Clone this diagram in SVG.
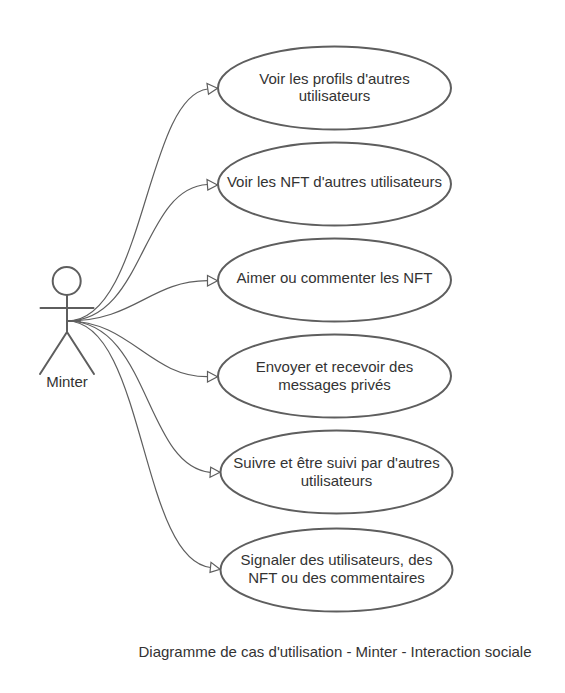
<svg xmlns="http://www.w3.org/2000/svg" width="565" height="693" viewBox="0 0 565 693">
<style>
.n{fill:#fff;stroke:#5e5e5e;stroke-width:2}
.a{fill:none;stroke:#5e5e5e;stroke-width:2;stroke-linecap:round}
.c{fill:none;stroke:#5e5e5e;stroke-width:1.2}
.h{fill:#fff;stroke:#5e5e5e;stroke-width:1.2}
text{font-family:"Liberation Sans",Arial,sans-serif;font-size:15px;fill:#333;text-anchor:middle}
</style>
<rect width="565" height="693" fill="#fff"/>
<g id="connectors">
<path class="c" d="M67 321C145 321 145 97 207.700 89"/><polygon class="h" points="217.500,88.300 207,83.500 208.500,94.300"/>
<path class="c" d="M67 321C145 321 141 188 207.500 184.500"/><polygon class="h" points="217.500,185 207,179.500 207.800,190"/>
<path class="c" d="M67 321C135 321 150 281 207.500 280.700"/><polygon class="h" points="217.500,280.700 207.500,275.500 207.500,286"/>
<path class="c" d="M67 321C130 321 150 377 207.500 376.700"/><polygon class="h" points="217.500,376.700 207.500,371.500 207.500,382"/>
<path class="c" d="M67 321C150 321 144 465 210 472.300"/><polygon class="h" points="220,472.300 210.700,467.300 210,477.300"/>
<path class="c" d="M67 321C145 321 140 560 210.500 567.500"/><polygon class="h" points="220,569.300 211,562.300 210,572.300"/>
</g>
<g id="actor">
<circle class="a" cx="66.700" cy="281" r="14"/>
<path class="a" d="M67 295V333M40.500 308H93.500M67 321H80M67 332L40 374M67 332L94 374"/>
<text x="67" y="386.500">Minter</text>
</g>
<g id="u1"><ellipse class="n" cx="334.500" cy="88" rx="116.500" ry="41.500"/><text x="334.500" y="83.500">Voir les profils d'autres</text><text x="334.500" y="101">utilisateurs</text></g>
<g id="u2"><ellipse class="n" cx="334.500" cy="184" rx="116.500" ry="41.500"/><text x="334.500" y="187">Voir les NFT d'autres utilisateurs</text></g>
<g id="u3"><ellipse class="n" cx="334.500" cy="280" rx="116.500" ry="41.500"/><text x="334.500" y="283">Aimer ou commenter les NFT</text></g>
<g id="u4"><ellipse class="n" cx="334.500" cy="376" rx="116.500" ry="41.500"/><text x="334.500" y="372">Envoyer et recevoir des</text><text x="334.500" y="389.500">messages privés</text></g>
<g id="u5"><ellipse class="n" cx="336.500" cy="472" rx="116" ry="41.500"/><text x="336.500" y="468">Suivre et être suivi par d'autres</text><text x="336.500" y="485.500">utilisateurs</text></g>
<g id="u6"><ellipse class="n" cx="336.500" cy="570" rx="116" ry="41.500"/><text x="336.500" y="565">Signaler des utilisateurs, des</text><text x="336.500" y="582.500">NFT ou des commentaires</text></g>
<text id="title" x="335" y="657">Diagramme de cas d'utilisation - Minter - Interaction sociale</text>
</svg>
